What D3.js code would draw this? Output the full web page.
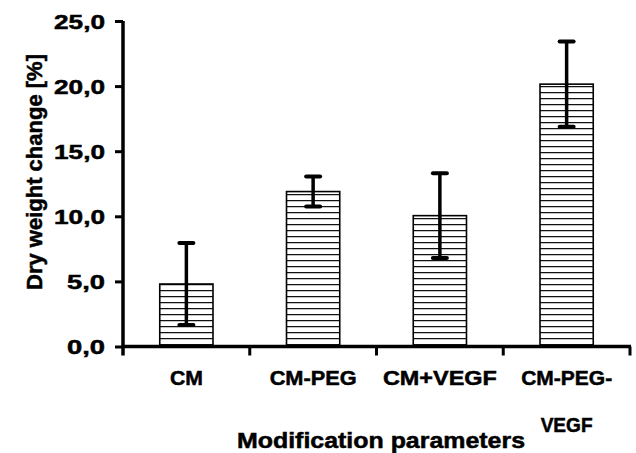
<!DOCTYPE html>
<html>
<head>
<meta charset="utf-8">
<script src="https://cdn.jsdelivr.net/npm/d3@7"></script>
<style>
  html, body { margin: 0; padding: 0; background: #fff; }
  svg { display: block; }
  text { font-family: "Liberation Sans", Arial, sans-serif; font-weight: bold; fill: #000; stroke: #000; stroke-width: 0.5px; }
</style>
</head>
<body>
<svg id="chart" width="636" height="453"></svg>
<script>
const categories = ["CM", "CM-PEG", "CM+VEGF", "CM-PEG-VEGF"];
const categoryLines = [["CM"], ["CM-PEG"], ["CM+VEGF"], ["CM-PEG-", "VEGF"]];
const means = [4.8, 11.9, 10.05, 20.15];
const errors = [3.15, 1.15, 3.25, 3.27];
const yTicks = [0, 5, 10, 15, 20, 25];
const yTickLabels = ["0,0", "5,0", "10,0", "15,0", "20,0", "25,0"];
const xTitle = "Modification parameters";
const yTitle = "Dry weight change [%]";

const svg = d3.select("#chart");
const mLeft = 123, mRight = 630, mTop = 21, mBottom = 346.5;

const x = d3.scaleBand().domain(categories).range([mLeft, mRight]).paddingInner(0.58).paddingOuter(0.29);
const y = d3.scaleLinear().domain([0, 25]).range([mBottom, mTop]);

// hatch pattern
const defs = svg.append("defs");
const pat = defs.append("pattern")
  .attr("id", "hatch")
  .attr("patternUnits", "userSpaceOnUse")
  .attr("x", 0).attr("y", mBottom - 8.5)
  .attr("width", 10).attr("height", 6);
pat.append("rect").attr("width", 10).attr("height", 6).attr("fill", "#fff");
pat.append("line").attr("x1", 0).attr("x2", 10).attr("y1", 0.6).attr("y2", 0.6)
  .attr("stroke", "#111").attr("stroke-width", 1.3);

// bars
svg.append("g").selectAll("rect").data(categories).join("rect")
  .attr("x", d => x(d))
  .attr("y", (d, i) => y(means[i]))
  .attr("width", x.bandwidth())
  .attr("height", (d, i) => y(0) - y(means[i]))
  .attr("fill", "url(#hatch)")
  .attr("stroke", "#000")
  .attr("stroke-width", 1.6);

// error bars
const eg = svg.append("g");
categories.forEach((c, i) => {
  const cx = x(c) + x.bandwidth() / 2;
  const hi = y(means[i] + errors[i]), lo = y(means[i] - errors[i]);
  eg.append("line").attr("x1", cx).attr("x2", cx).attr("y1", hi).attr("y2", lo)
    .attr("stroke", "#000").attr("stroke-width", 3.5);
  [hi, lo].forEach(yy => {
    eg.append("line").attr("x1", cx - 7).attr("x2", cx + 7).attr("y1", yy).attr("y2", yy)
      .attr("stroke", "#000").attr("stroke-width", 4).attr("stroke-linecap", "round");
  });
});

// y axis
const yAxis = d3.axisLeft(y).tickValues(yTicks).tickSize(8).tickPadding(10)
  .tickFormat((d, i) => yTickLabels[i]);
const yg = svg.append("g").attr("transform", `translate(${mLeft},0)`).call(yAxis);
yg.select(".domain").attr("d", `M0,${mTop}V${mBottom + 9}`).attr("stroke", "#000").attr("stroke-width", 3.5);
yg.selectAll(".tick line").attr("stroke", "#000").attr("stroke-width", 3);
yg.selectAll(".tick text")
  .attr("font-size", 20).attr("dy", "0.35em")
  .attr("lengthAdjust", "spacingAndGlyphs")
  .each(function(d, i) {
    const t = yTickLabels[i];
    d3.select(this).attr("textLength", t.length === 4 ? 51 : 38);
  })
  .attr("font-family", "Liberation Sans, Arial, sans-serif").attr("font-weight", "bold");

// x axis
const boundaries = [mLeft, ...categories.slice(1).map(c => x(c) - x.step() * x.paddingInner() / 2), mRight];
const xg = svg.append("g");
xg.append("line").attr("x1", mLeft - 1.5).attr("x2", mRight + 1).attr("y1", mBottom).attr("y2", mBottom)
  .attr("stroke", "#000").attr("stroke-width", 3.5);
xg.selectAll("line.tk").data(boundaries.slice(1)).join("line").attr("class", "tk")
  .attr("x1", d => d).attr("x2", d => d).attr("y1", mBottom).attr("y2", mBottom + 9)
  .attr("stroke", "#000").attr("stroke-width", 3);

// category labels
const catWidths = [[33], [87], [114], [91, 52]];
categories.forEach((c, i) => {
  const cx = x(c) + x.bandwidth() / 2;
  categoryLines[i].forEach((ln, j) => {
    svg.append("text").attr("x", cx).attr("y", 385 + j * 47)
      .attr("text-anchor", "middle").attr("font-size", 21)
      .attr("textLength", catWidths[i][j]).attr("lengthAdjust", "spacingAndGlyphs")
      .text(ln);
  });
});

// axis titles
svg.append("text").attr("x", 381).attr("y", 448).attr("text-anchor", "middle")
  .attr("font-size", 22).attr("textLength", 288).attr("lengthAdjust", "spacingAndGlyphs")
  .text(xTitle);
svg.append("text").attr("transform", "translate(41.5,172) rotate(-90)")
  .attr("text-anchor", "middle").attr("font-size", 22)
  .text(yTitle);
</script>
</body>
</html>
